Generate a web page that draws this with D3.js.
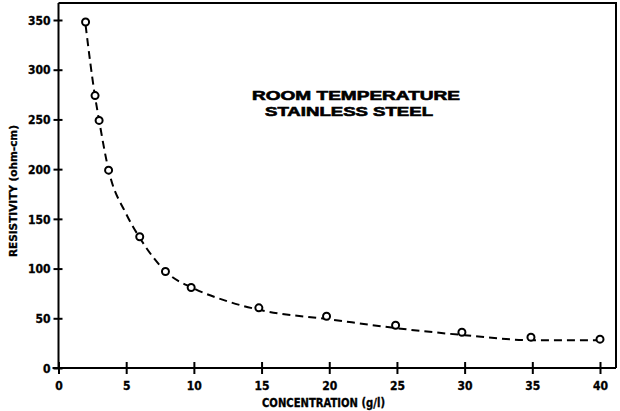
<!DOCTYPE html>
<html><head><meta charset="utf-8">
<script src="https://cdn.jsdelivr.net/npm/d3@7"></script>
<style>body{margin:0;background:#fff}svg{display:block}</style>
</head><body>
<script>
// Measured points
const concentration = [2, 2.7, 3, 3.7, 6, 7.9, 9.8, 14.8, 19.8, 24.9, 29.8, 34.9, 40];
const resistivity   = [348, 274, 249, 199, 132, 97, 81, 60.5, 52, 43, 36, 31, 29];
// Dashed fitted curve
const curveX = [2, 2.7, 3, 3.7, 5, 6, 8, 10, 12.5, 15, 20, 25, 30, 35, 40];
const curveY = [345, 273, 249, 199, 155, 131, 96, 80, 67, 58, 49, 40, 33, 28, 28];
const xTicks = [0, 5, 10, 15, 20, 25, 30, 35, 40];
const yTicks = [0, 50, 100, 150, 200, 250, 300, 350];
const titleLines = ["ROOM TEMPERATURE", "STAINLESS STEEL"];
const xLabel = "CONCENTRATION (g/l)";
const yLabel = "RESISTIVITY (ohm-cm)";

const W = 620, H = 411;
const svg = d3.select("body").append("svg").attr("width", W).attr("height", H);
const x = d3.scaleLinear().domain([0, 40]).range([58.5, 600]);
const y = d3.scaleLinear().domain([0, 350]).range([368, 20]);
const font = "'DejaVu Sans Condensed','Liberation Sans',sans-serif";

// frame (top & right)
svg.append("path").attr("d", `M${x(0)},3H616V${y(0)}`).attr("fill","none").attr("stroke","#000").attr("stroke-width",2);

const yAxis = svg.append("g").attr("transform", `translate(${x(0)},0)`)
  .call(d3.axisLeft(y).tickValues(yTicks).tickSize(5).tickPadding(3));
yAxis.select(".domain").attr("d", `M0,3V${y(0)}`).attr("stroke-width",2);
yAxis.selectAll(".tick line").attr("x1",4).attr("x2",-5).attr("stroke-width",2);
yAxis.selectAll(".tick text").attr("font-family",font).attr("font-weight","bold").attr("font-size",12)
  .attr("fill","#000").attr("stroke","#000").attr("stroke-width",0.3).attr("dy","0.35em");

const xAxis = svg.append("g").attr("transform", `translate(0,${y(0)})`)
  .call(d3.axisBottom(x).tickValues(xTicks).tickSize(6).tickPadding(7));
xAxis.select(".domain").attr("d", `M${x(0)-6},0H616`).attr("stroke-width",2);
xAxis.selectAll(".tick line").attr("y1",-6).attr("y2",6).attr("stroke-width",2);
xAxis.selectAll(".tick text").attr("font-family",font).attr("font-weight","bold").attr("font-size",12)
  .attr("fill","#000").attr("stroke","#000").attr("stroke-width",0.3);

// curve
const line = d3.line().x(d => x(d[0])).y(d => y(d[1])).curve(d3.curveMonotoneX);
svg.append("path").datum(d3.zip(curveX, curveY)).attr("d", line)
  .attr("fill","none").attr("stroke","#000").attr("stroke-width",2).attr("stroke-dasharray","8,5");

svg.selectAll("circle.pt").data(d3.zip(concentration, resistivity)).join("circle")
  .attr("class","pt").attr("cx", d => x(d[0])).attr("cy", d => y(d[1])).attr("r",3.5)
  .attr("fill","#fff").attr("stroke","#000").attr("stroke-width",2);

// title
const tl = [[356, 99.5, 208], [349, 115.5, 168]];
titleLines.forEach((t, i) => {
  svg.append("text").attr("x", tl[i][0]).attr("y", tl[i][1]).attr("text-anchor","middle")
    .attr("font-family","'Liberation Sans',Arial,sans-serif").attr("font-weight","bold").attr("font-size",12.5)
    .attr("stroke","#000").attr("stroke-width",0.6)
    .attr("textLength", tl[i][2]).attr("lengthAdjust","spacingAndGlyphs").text(t);
});

svg.append("text").attr("x", 323.5).attr("y", 407).attr("text-anchor","middle")
  .attr("font-family",font).attr("font-weight","bold").attr("font-size",11.5)
  .attr("stroke","#000").attr("stroke-width",0.3)
  .attr("textLength",123).attr("lengthAdjust","spacingAndGlyphs").text(xLabel);

svg.append("text").attr("transform","translate(17,191) rotate(-90)").attr("text-anchor","middle")
  .attr("font-family",font).attr("font-weight","bold").attr("font-size",11)
  .attr("stroke","#000").attr("stroke-width",0.3)
  .attr("textLength",132).attr("lengthAdjust","spacingAndGlyphs").text(yLabel);
</script>
</body></html>
